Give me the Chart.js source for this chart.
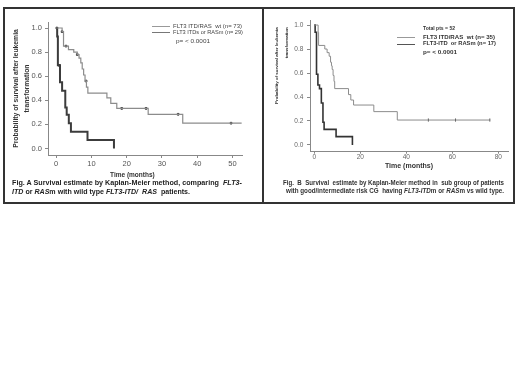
<!DOCTYPE html><html lang="en">
<head>
<meta charset="UTF-8">
<title>Kaplan-Meier survival after leukemia transformation</title>
<script src="https://cdn.jsdelivr.net/npm/chart.js"></script>
<style>
  body { margin: 0; background: #fff; font-family: Arial, "Liberation Sans", sans-serif; }
  #page { position: relative; width: 520px; height: 390px; background: #fff; overflow: hidden; }
  .frame { position: absolute; left: 3px; top: 7px; width: 508px; height: 193px; border: 2px solid #333; z-index: 3; }
  .divider { position: absolute; left: 262px; top: 7px; width: 2px; height: 197px; background: #333; z-index: 3; }
  .box { position: absolute; }
  .txt { position: absolute; white-space: nowrap; transform-origin: left center; z-index: 4; }
  .ln { position: absolute; height: 0; z-index: 4; }
  .legA { font-size: 6px; line-height: 7px; color: #444; }
  .legB { font-size: 6px; line-height: 7px; color: #333; font-weight: bold; }
  .capA { font-size: 7.5px; line-height: 9px; color: #222; font-weight: bold; }
  .capB { font-size: 7px; line-height: 8px; color: #333; font-weight: bold; }
</style>
</head>
<body>
<div id="page">
  <div class="box" style="left:5px;top:9px;width:256px;height:194px"><canvas id="chartA" width="256" height="194"></canvas></div>
  <div class="box" style="left:265px;top:9px;width:248px;height:194px"><canvas id="chartB" width="248" height="194"></canvas></div>
  <div class="frame"></div>
  <div class="divider"></div>

  <!-- leyenda A -->
  <div class="ln" style="left:152px;top:26px;width:18px;border-top:1px solid #999"></div>
  <div class="ln" style="left:152px;top:32px;width:18px;border-top:1.5px solid #777"></div>
  <div class="txt legA" style="left:173px;top:22.5px" data-w="69">FLT3 ITD/RAS&nbsp; wt (n= 73)</div>
  <div class="txt legA" style="left:173px;top:29px" data-w="70">FLT3 ITDs or RASm (n= 29)</div>
  <div class="txt legA" style="left:176px;top:38px" data-w="34">p= &lt; 0.0001</div>

  <!-- leyenda B -->
  <div class="txt legB" style="left:423px;top:24.5px" data-w="32">Total pts = 52</div>
  <div class="ln" style="left:397px;top:37px;width:18px;border-top:1px solid #999"></div>
  <div class="ln" style="left:397px;top:43.5px;width:18px;border-top:1.5px solid #555"></div>
  <div class="txt legB" style="left:423px;top:33.5px" data-w="72">FLT3 ITD/RAS&nbsp; wt (n= 35)</div>
  <div class="txt legB" style="left:423px;top:40px" data-w="73">FLT3-ITD&nbsp; or RASm (n= 17)</div>
  <div class="txt legB" style="left:423px;top:48.5px" data-w="34">p= &lt; 0.0001</div>

  <!-- pies de figura -->
  <div class="txt capA" style="left:11.5px;top:177.5px" data-w="230">Fig. A Survival estimate by Kaplan-Meier method, comparing&nbsp; <i>FLT3-</i></div>
  <div class="txt capA" style="left:11.5px;top:186.5px" data-w="178"><i>ITD</i> or <i>RAS</i>m with wild type <i>FLT3-ITD/&nbsp; RAS</i>&nbsp; patients.</div>
  <div class="txt capB" style="left:283px;top:178.5px" data-w="221">Fig.&nbsp; B&nbsp; Survival&nbsp; estimate by Kaplan-Meier method in&nbsp; sub group of patients</div>
  <div class="txt capB" style="left:285.5px;top:187px" data-w="218">with good/intermediate risk CG&nbsp; having <i>FLT3-ITD</i>m or <i>RAS</i>m vs wild type.</div>
</div>

<script>
  // Fig. A - todos los pacientes
  const tA_wt  = [0, 1.7, 2.1, 3.5, 5.0, 6.0, 6.5, 7.0, 7.4, 7.8, 8.2, 8.6, 9.0, 14.4, 15.5, 17.2, 26.1, 35.9, 52.6];
  const sA_wt  = [1.0, 0.97, 0.85, 0.82, 0.80, 0.78, 0.75, 0.71, 0.66, 0.61, 0.56, 0.51, 0.46, 0.42, 0.375, 0.333, 0.284, 0.21, 0.21];
  const tA_mut = [0, 0.3, 0.5, 1.1, 1.7, 2.6, 3.0, 3.6, 4.2, 8.9, 16.4];
  const sA_mut = [1.0, 0.93, 0.69, 0.55, 0.48, 0.34, 0.28, 0.21, 0.14, 0.07, 0.0];
  const cA_wt  = [0.2, 1.7, 2.8, 6.0, 8.5, 18.6, 25.5, 34.6, 49.6];
  const cA_mut = [0.9];
  const xTicksA = [0, 10, 20, 30, 40, 50];

  // Fig. B - riesgo bueno/intermedio
  const tB_wt  = [0, 1.7, 1.9, 4.6, 5.6, 6.5, 7.1, 7.5, 7.8, 8.2, 8.6, 8.9, 14.9, 15.9, 17.1, 25.9, 36.1, 76.3];
  const sB_wt  = [1.0, 0.94, 0.83, 0.80, 0.77, 0.74, 0.69, 0.66, 0.63, 0.58, 0.53, 0.47, 0.42, 0.375, 0.333, 0.278, 0.208, 0.208];
  const tB_mut = [0, 0.4, 1.0, 1.6, 2.3, 3.1, 3.8, 4.3, 9.5, 16.6];
  const sB_mut = [1.0, 0.94, 0.59, 0.50, 0.47, 0.35, 0.19, 0.13, 0.07, 0.0];
  const cB_wt  = [49.6, 61.4, 76.3];
  const xTicksB = [0, 20, 40, 60, 80];

  const yTicks = [0, 0.2, 0.4, 0.6, 0.8, 1.0];

  function puntos(t, s) {
    return t.map((x, i) => ({ x: x, y: s[i] }));
  }

  function survAt(t, s, x) {
    let v = s[0];
    for (let i = 0; i < t.length; i++) if (t[i] <= x) v = s[i];
    return v;
  }

  function censuras(c, t, s) {
    return c.map(x => ({ x: x, y: survAt(t, s, x) }));
  }

  function crearKM(id, o) {
    const gridCfg = { display: true, drawOnChartArea: false, drawTicks: true, tickLength: 3, color: '#888' };
    return new Chart(document.getElementById(id), {
      type: 'line',
      data: {
        datasets: [
          { data: puntos(o.tWt, o.sWt), stepped: true, borderColor: o.greyColor, borderWidth: o.greyWidth, pointRadius: 0, fill: false },
          { data: puntos(o.tMut, o.sMut), stepped: true, borderColor: o.darkColor, borderWidth: o.darkWidth, pointRadius: 0, fill: false },
          { data: censuras(o.cWt, o.tWt, o.sWt), showLine: false, pointStyle: o.censorStyle, rotation: 90,
            pointRadius: o.censorSize, backgroundColor: '#111', borderColor: '#444', borderWidth: 1 },
          { data: censuras(o.cMut, o.tMut, o.sMut), showLine: false, pointStyle: o.censorStyle, rotation: 90,
            pointRadius: o.censorSize, backgroundColor: '#111', borderColor: '#444', borderWidth: 1 }
        ]
      },
      options: {
        responsive: false,
        animation: false,
        layout: { padding: o.padding },
        plugins: { legend: { display: false }, tooltip: { enabled: false } },
        scales: {
          x: {
            type: 'linear', min: o.xMin, max: o.xMax,
            afterFit: s => { s.height = 30; },
            afterBuildTicks: s => { s.ticks = o.xTicks.map(v => ({ value: v })); },
            grid: Object.assign({}, gridCfg, { tickLength: o.tickLen }),
            border: { display: true, color: '#888', width: 1 },
            ticks: { font: { size: o.tickFont, family: 'Arial' }, color: o.tickColor, padding: o.xPad, maxRotation: 0, autoSkip: false },
            title: { display: true, text: o.xTitle, color: '#333',
              font: { size: o.xTitleSize, weight: 'bold', family: 'Arial', lineHeight: '9px' },
              padding: { top: 0, bottom: o.xTitlePad } }
          },
          y: {
            min: o.yMin, max: o.yMax,
            afterFit: s => { s.width = o.yWidth; },
            afterBuildTicks: s => { s.ticks = yTicks.map(v => ({ value: v })); },
            grid: gridCfg,
            border: { display: true, color: '#888', width: 1 },
            ticks: { font: { size: o.tickFont, family: 'Arial' }, color: o.tickColor, padding: o.yPad,
              callback: v => v.toFixed(1) },
            title: { display: true, text: o.yTitle, align: o.yAlign, color: '#333',
              font: { size: o.yTitleSize, weight: 'bold', family: 'Arial', lineHeight: o.yTitleLH },
              padding: { top: o.yTitlePad, bottom: 0 } }
          }
        }
      }
    });
  }

  const nb = '\u00a0';

  crearKM('chartA', {
    tWt: tA_wt, sWt: sA_wt, tMut: tA_mut, sMut: sA_mut, cWt: cA_wt, cMut: cA_mut,
    xTicks: xTicksA, xMin: -2.3, xMax: 52.7, yMin: -0.054, yMax: 1.05,
    padding: { left: 0, top: 13, right: 19, bottom: 18 }, yWidth: 43,
    greyColor: '#8c8c8c', greyWidth: 1.2, darkColor: '#3c3c3c', darkWidth: 2,
    censorStyle: 'rect', censorSize: 1.2,
    tickFont: 7.5, tickColor: '#555', tickLen: 3, xPad: 1, yPad: 3,
    xTitle: 'Time (months)' + nb.repeat(14), xTitleSize: 6.5, xTitlePad: 5.5,
    yTitle: ['Probability of survival after leukemia', 'transformation'], yAlign: 'center',
    yTitleSize: 6.8, yTitleLH: '11px', yTitlePad: 5.5
  });

  crearKM('chartB', {
    tWt: tB_wt, sWt: sB_wt, tMut: tB_mut, sMut: sB_mut, cWt: cB_wt, cMut: [],
    xTicks: xTicksB, xMin: -1.83, xMax: 84.2, yMin: -0.056, yMax: 1.042,
    padding: { left: 0, top: 11, right: 1.3, bottom: 21.3 }, yWidth: 45,
    greyColor: '#8c8c8c', greyWidth: 1, darkColor: '#333', darkWidth: 1.6,
    censorStyle: 'line', censorSize: 1.5,
    tickFont: 6.5, tickColor: '#666', tickLen: 2, xPad: 0, yPad: 3.7,
    xTitle: 'Time (months)', xTitleSize: 7, xTitlePad: 11.5,
    yTitle: ['Probability of survival after leukemia' + nb.repeat(6), 'transformation' + nb.repeat(6)], yAlign: 'end',
    yTitleSize: 4.4, yTitleLH: '10px', yTitlePad: 6.7
  });

  // ajustar el ancho de los textos al de la figura original
  document.querySelectorAll('[data-w]').forEach(el => {
    const w = el.getBoundingClientRect().width;
    el.style.transform = 'scaleX(' + (parseFloat(el.dataset.w) / w) + ')';
  });
</script>
</body>
</html>
